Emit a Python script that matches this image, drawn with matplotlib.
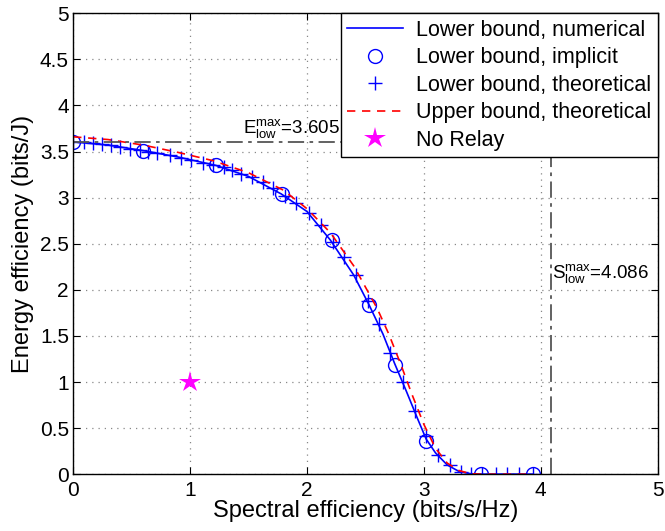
import matplotlib
matplotlib.use("Agg")
import matplotlib.pyplot as plt

plt.rcParams["font.family"] = ["Liberation Sans", "DejaVu Sans"]
plt.rcParams["mathtext.default"] = "regular"

# lower bound, numerical (solid line)
se_num = [0, 0.3, 0.6, 0.9, 1.22, 1.5, 1.78, 2.0, 2.2, 2.4, 2.53, 2.65, 2.75,
          2.85, 2.95, 3.02, 3.1, 3.2, 3.3, 3.4, 3.5, 3.93]
ee_num = [3.605, 3.57, 3.51, 3.44, 3.35, 3.23, 3.04, 2.85, 2.54, 2.16, 1.84, 1.52,
          1.20, 0.90, 0.59, 0.38, 0.23, 0.10, 0.03, 0.005, 0, 0]

# lower bound, implicit (circles)
se_imp = [0, 0.6, 1.22, 1.79, 2.21, 2.53, 2.75, 3.02, 3.49, 3.93]
ee_imp = [3.605, 3.51, 3.35, 3.04, 2.54, 1.84, 1.18, 0.36, 0, 0]

# lower bound, theoretical (plus markers)
se_th = [0, 0.09, 0.17, 0.25, 0.32, 0.40, 0.49, 0.57, 0.64, 0.72, 0.83, 0.92, 1.01,
         1.11, 1.2, 1.29, 1.36, 1.44, 1.53, 1.62, 1.71, 1.81, 1.91, 2.02, 2.12, 2.22,
         2.32, 2.42, 2.52, 2.62, 2.71, 2.82, 2.92, 3.02, 3.12, 3.22, 3.32, 3.40, 3.50,
         3.62, 3.71, 3.81, 3.93]
ee_th = [3.605, 3.60, 3.59, 3.58, 3.57, 3.55, 3.53, 3.515, 3.50, 3.48, 3.46, 3.43,
         3.41, 3.38, 3.355, 3.33, 3.30, 3.26, 3.22, 3.17, 3.10, 3.02, 2.94, 2.83, 2.70,
         2.52, 2.36, 2.16, 1.88, 1.63, 1.31, 1.00, 0.68, 0.41, 0.21, 0.10, 0.025, 0, 0,
         0, 0, 0, 0]

# upper bound, theoretical (red dashed)
se_up = [0, 0.3, 0.6, 0.9, 1.2, 1.5, 1.8, 2.0, 2.2, 2.4, 2.6, 2.7, 2.8, 2.9, 3.0,
         3.1, 3.2, 3.3, 3.4, 3.5, 3.93]
ee_up = [3.66, 3.63, 3.57, 3.49, 3.40, 3.27, 3.08, 2.88, 2.62, 2.26, 1.80, 1.52,
         1.20, 0.86, 0.54, 0.28, 0.12, 0.04, 0.005, 0, 0]

# no-relay reference point
se_norelay = [1]
ee_norelay = [1]

e_max = 3.605
s_max = 4.086

fig = plt.figure(figsize=(6.65, 5.31), dpi=100)
ax = fig.add_axes([0.110, 0.107, 0.879, 0.868])

ax.plot(se_num, ee_num, "-", color="#0000ff", lw=1.2, label="Lower bound, numerical")
ax.plot(se_imp, ee_imp, "o", color="#0000ff", mfc="none", ms=10, mew=1.0,
        label="Lower bound, implicit")
ax.plot(se_th, ee_th, "+", color="#0000ff", ms=10, mew=1.0,
        label="Lower bound, theoretical")
ax.plot(se_up, ee_up, "--", color="#ff0000", lw=1.2, dashes=(5, 4),
        label="Upper bound, theoretical")
ax.plot(se_norelay, ee_norelay, "*", color="#ff00ff", ms=16, mew=0,
        label="No Relay")

# maximum EE / SE guide lines
ax.plot([0, s_max], [e_max, e_max], color="#555555", lw=1.3, dashes=(9, 3, 2, 3))
ax.plot([s_max, s_max], [0, e_max], color="#555555", lw=1.3, dashes=(9, 3, 2, 3))
ax.text(1.45, 3.63, r"E$_{low}^{max}$=3.605", fontsize=13.5, va="bottom", ha="left")
ax.text(4.1, 2.18, r"S$_{low}^{max}$=4.086", fontsize=13.5, va="center", ha="left")

ax.set_xlim(0, 5)
ax.set_ylim(0, 5)
ax.set_xticks([0, 1, 2, 3, 4, 5])
ax.set_xticklabels(["0", "1", "2", "3", "4", "5"])
ax.set_yticks([0, 0.5, 1, 1.5, 2, 2.5, 3, 3.5, 4, 4.5, 5])
ax.set_yticklabels(["0", "0.5", "1", "1.5", "2", "2.5", "3", "3.5", "4", "4.5", "5"])
ax.tick_params(direction="in", top=True, right=True, labelsize=15, length=5)
ax.tick_params(axis="x", pad=5)
ax.tick_params(axis="y", pad=3)
ax.grid(True, linestyle=(0, (1, 4)), color="#888888", lw=0.9)
for s in ax.spines.values():
    s.set_linewidth(1.0)

ax.set_xlabel("Spectral efficiency (bits/s/Hz)", fontsize=17, labelpad=0)
ax.set_ylabel("Energy efficiency (bits/J)", fontsize=17, labelpad=4)

leg = ax.legend(loc="upper right", bbox_to_anchor=(1, 1), borderaxespad=0,
                fontsize=15.5, fancybox=False, framealpha=1, edgecolor="black",
                handlelength=2.6, labelspacing=0.3, borderpad=0.3, handletextpad=0.6)
leg.get_frame().set_linewidth(1.0)

fig.savefig("out.png", dpi=100)
